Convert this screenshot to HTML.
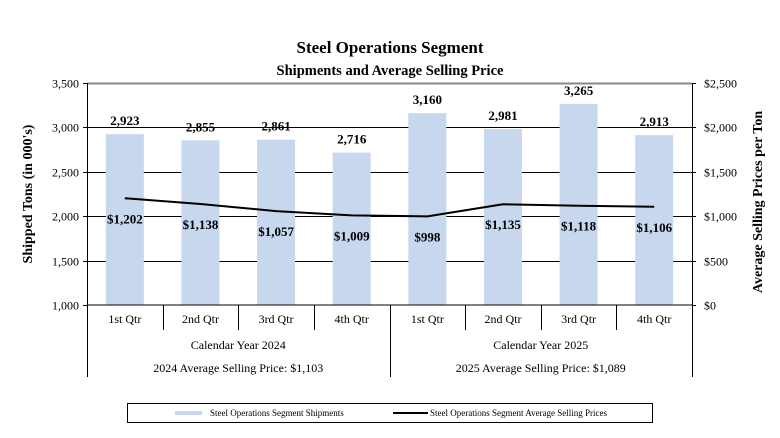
<!DOCTYPE html>
<html><head><meta charset="utf-8"><style>
body{margin:0;background:#fff;}
svg text{font-family:"Liberation Serif",serif;fill:#000;}
</style></head><body>
<svg id="chart" width="780" height="433" xmlns="http://www.w3.org/2000/svg">
<text x="390" y="53" text-anchor="middle" font-size="17" font-weight="bold">Steel Operations Segment</text>
<text x="390" y="75" text-anchor="middle" font-size="14.5" font-weight="bold">Shipments and Average Selling Price</text>
<g id="grid"></g><g id="bars"></g><g id="line"></g><g id="labels"></g><g id="axes"></g>
<text transform="translate(32,194) rotate(-90)" text-anchor="middle" font-size="14" font-weight="bold">Shipped Tons (in 000's)</text>
<text transform="translate(762,202) rotate(-90)" text-anchor="middle" font-size="14" font-weight="bold">Average Selling Prices per Ton</text>
<rect x="127.5" y="403.5" width="525" height="19" fill="#fff" stroke="#000" stroke-width="1"/>
<rect x="175" y="411" width="27" height="4" fill="#c6d7ee"/>
<text x="210" y="416" font-size="9">Steel Operations Segment Shipments</text>
<line x1="393" y1="413" x2="428" y2="413" stroke="#000" stroke-width="2"/>
<text x="430" y="416" font-size="9">Steel Operations Segment Average Selling Prices</text>
</svg>
<script>
const categories=["1st Qtr","2nd Qtr","3rd Qtr","4th Qtr","1st Qtr","2nd Qtr","3rd Qtr","4th Qtr"];
const shipments=[2923,2855,2861,2716,3160,2981,3265,2913];
const prices=[1202,1138,1057,1009,998,1135,1118,1106];
const years=["Calendar Year 2024","Calendar Year 2025"];
const yearAvg=["2024 Average Selling Price: $1,103","2025 Average Selling Price: $1,089"];
const leftTicks=[1000,1500,2000,2500,3000,3500];
const rightTicks=[0,500,1000,1500,2000,2500];
const NS="http://www.w3.org/2000/svg";
const L=87,R=692,T=83,B=305;
const bw=(R-L)/categories.length;
const xc=i=>L+bw*(i+0.5);
const yL=v=>B-(v-1000)/2500*(B-T);
const yR=v=>B-v/2500*(B-T);
function mk(tag,attrs,parent,txt){const e=document.createElementNS(NS,tag);for(const k in attrs)e.setAttribute(k,attrs[k]);if(txt!==undefined)e.textContent=txt;document.getElementById(parent)?document.getElementById(parent).appendChild(e):parent.appendChild(e);return e;}
const fmt=v=>v.toLocaleString('en-US');
leftTicks.forEach((t,i)=>{
 const y=Math.round(yL(t))+0.5;
 if(i>0){const g=mk('line',{x1:L,x2:R,y1:y,y2:y,stroke:i==leftTicks.length-1?'#888':'#000','stroke-width':i==leftTicks.length-1?2:1},'grid');}
 const tl=mk('text',{x:L-8,y:y+4,'text-anchor':'end','font-size':12},'axes',fmt(t));
 const tk=mk('line',{x1:L-4,x2:L,y1:y,y2:y,stroke:'#000'},'axes');
});
rightTicks.forEach(t=>{
 const y=Math.round(yR(t))+0.5;
 const tl=mk('text',{x:R+12,y:y+4,'font-size':12},'axes','$'+fmt(t));
 const tk=mk('line',{x1:R,x2:R+4,y1:y,y2:y,stroke:'#000'},'axes');
});
shipments.forEach((v,i)=>{
 const b=mk('rect',{x:xc(i)-19,y:yL(v),width:38,height:B-yL(v),fill:'#c6d7ee'},'bars');
 const t=mk('text',{x:xc(i),y:yL(v)-9,'text-anchor':'middle','font-size':13,'font-weight':'bold'},'labels',fmt(v));
});
let d='';
prices.forEach((v,i)=>{d+=(i?' L':'M')+xc(i)+','+yR(v);});
const pl=mk('path',{d:d,fill:'none',stroke:'#000','stroke-width':2,'stroke-linejoin':'round'},'line');
prices.forEach((v,i)=>{
 const t=mk('text',{x:xc(i),y:yR(v)+25,'text-anchor':'middle','font-size':13,'font-weight':'bold'},'labels','$'+fmt(v));
});
// axes lines
[[L,T,L,377],[R,T,R,377],[L,B,R,B]].forEach(a=>{const l=mk('line',{x1:Math.round(a[0])+0.5,y1:a[1],x2:Math.round(a[2])+0.5,y2:a[3],stroke:'#000'},'axes');});
for(let i=1;i<categories.length;i++){
 const x=Math.round(L+bw*i)+0.5;
 const l=mk('line',{x1:x,x2:x,y1:B,y2:i==4?377:330,stroke:'#000'},'axes');
}
categories.forEach((c,i)=>{const t=mk('text',{x:xc(i),y:323,'text-anchor':'middle','font-size':12},'axes',c);});
years.forEach((y,i)=>{const cx=L+bw*(4*i+2);
 const t=mk('text',{x:cx,y:349,'text-anchor':'middle','font-size':12},'axes',y);
 const a=mk('text',{x:cx,y:372,'text-anchor':'middle','font-size':12},'axes',yearAvg[i]);
});
</script>
</body></html>
